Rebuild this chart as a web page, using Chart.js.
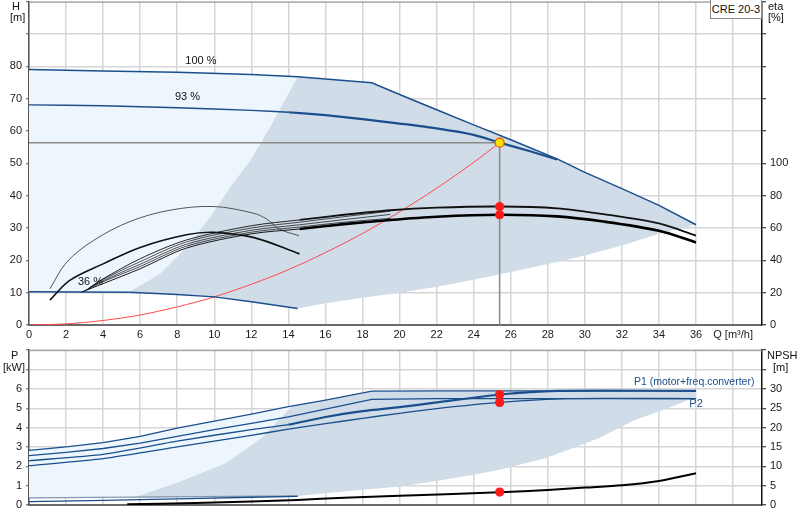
<!DOCTYPE html>
<html>
<head>
<meta charset="utf-8">
<title>CRE 20-3</title>
<script src="https://cdn.jsdelivr.net/npm/chart.js@4.4.1/dist/chart.umd.min.js"></script>
<style>
  html, body { margin:0; padding:0; background:#fff; }
  body { width:800px; height:520px; position:relative; overflow:hidden; font-family:"Liberation Sans", Arial, sans-serif; color:#111; }
  .wrap { position:absolute; left:0; width:800px; }
  #w1 { top:-4px; height:346px; }
  #w2 { top:345px; height:177px; }
  .lbl { position:absolute; font-size:11px; line-height:11px; white-space:nowrap; color:#111; }
  #model { position:absolute; left:710px; top:0; width:50px; height:18px; border:1px solid #8c8c8c; border-top:none; background:#fff; font-size:11px; line-height:18px; text-align:center; color:#111; }
</style>
</head>
<body>
<div class="wrap" id="w1"><canvas id="c1"></canvas></div>
<div class="wrap" id="w2"><canvas id="c2"></canvas></div>
<div class="lbl" style="left:12px;top:1px;">H</div>
<div class="lbl" style="left:10px;top:12px;">[m]</div>
<div class="lbl" style="left:768px;top:1px;">eta</div>
<div class="lbl" style="left:768px;top:12px;">[%]</div>
<div class="lbl" style="left:11px;top:350px;">P</div>
<div class="lbl" style="left:3px;top:362px;">[kW]</div>
<div class="lbl" style="left:767px;top:350px;">NPSH</div>
<div class="lbl" style="left:773px;top:362px;">[m]</div>
<div id="model">CRE 20-3</div>
<script>
// ---------------- tick labels ----------------
const qTicks = [0, 2, 4, 6, 8, 10, 12, 14, 16, 18, 20, 22, 24, 26, 28, 30, 32, 34, 36];
const qUnitTick = 38;
const qUnitLabel = 'Q [m³/h]';
const hTicks = [0, 10, 20, 30, 40, 50, 60, 70, 80];
const etaTicks = [0, 20, 40, 60, 80, 100];
const pTicks = [0, 1, 2, 3, 4, 5, 6];
const npshTicks = [0, 5, 10, 15, 20, 25, 30];

// ---------------- top chart: head H [m] ----------------
const q100 = [0, 4, 8, 12, 14.5, 18.5, 20, 22, 24, 26, 28.5, 30, 32, 34, 36];
const h100 = [79, 78.6, 78.2, 77.5, 76.8, 74.9, 71.3, 66.6, 61.9, 57.3, 51.4, 47.2, 42.2, 37.0, 31.0];
const q93 = [0, 4, 8, 12, 14, 16, 18, 20, 22, 24, 25.4, 27, 28.5];
const h93 = [68.1, 67.8, 67.2, 66.4, 65.8, 64.9, 63.7, 62.3, 60.8, 58.8, 56.4, 53.8, 51.2];
const q36 = [0, 5.4, 8, 10, 12, 14.5];
const h36 = [10.3, 10.1, 9.4, 8.7, 7.2, 5.1];
const qAreaLeft = [5.4, 7.07, 8.5, 9.77, 10.85, 11.93, 13.0, 14.5];
const hAreaLeft = [10.1, 15.8, 24, 33.3, 42.5, 50.7, 61, 76.8];
const qAreaLow = [14.5, 16, 18, 20, 22, 24, 26, 28, 30, 32, 34, 36];
const hAreaLow = [5.1, 6.7, 8.4, 10.0, 11.8, 14.0, 16.4, 18.9, 21.5, 24.6, 28.2, 31.0];
const qSys = [0, 2, 4, 6, 8, 10, 12, 14, 16, 18, 20, 22, 24, 25.4];
const hSys = [0, 0.35, 1.4, 3.1, 5.6, 8.7, 12.6, 17.1, 22.4, 28.3, 35, 42.3, 50.3, 56.4];
const dutyQ = 25.4;
const dutyH = 56.4;

// ---------------- top chart: efficiency eta [%] ----------------
const qEta36p = [1.13, 2.03, 3.47, 5.45, 7.6, 9.95, 12.1, 12.83, 13.5, 14.57];
const eta36p = [22.4, 38.8, 52.2, 64, 71, 73.3, 69.2, 65.5, 59.4, 55.2];
const qEta36t = [1.13, 2.2, 4.0, 6.0, 8.5, 9.95, 12.1, 14.6];
const eta36t = [15.4, 27.6, 37.8, 48, 55.8, 57.3, 54.2, 44];
const qEtaUp = [3.3, 4, 6, 8.5, 12, 14.6, 17, 19.5, 22, 25.4, 28.5, 31, 34, 36];
const etaUp = [23.4, 28.6, 41, 52.6, 61.4, 65, 68.2, 71, 72.6, 73.3, 72.2, 68.6, 62.8, 55.3];
const qEtaLow = [2.84, 4, 6, 8.5, 12, 14.6, 17, 19.5, 22, 25.4, 28.5, 31, 34, 36];
const etaLow = [20.4, 25.6, 34.8, 47.6, 56.4, 59.4, 62.4, 65, 67, 68.2, 67.2, 64, 58.3, 51.1];
const qEtaA = [2.95, 4, 6, 8.5, 12, 14.6, 17, 19.5];
const etaA = [20.8, 26.8, 36.2, 48.8, 57.4, 60.6, 63.6, 66];
const qEtaB = [3.05, 4, 6, 8.5, 12, 14.6, 17, 19.5];
const etaB = [21.4, 27.4, 37.6, 50, 58.6, 62, 65.2, 68.4];
const qEtaC = [3.18, 4, 6, 8.5, 12, 14.6, 17, 19.5];
const etaC = [22.4, 28.2, 39.2, 51.4, 60, 63.6, 67, 70.4];
const dutyEtaUp = 73.3;
const dutyEtaLow = 68.2;

// ---------------- bottom chart: power P [kW] and NPSH [m] ----------------
const qP = [0, 2, 4, 6, 8, 10, 12, 14, 16, 18.5, 22, 26, 30, 36];
const p1Max = [2.82, 3.0, 3.22, 3.55, 3.97, 4.33, 4.7, 5.08, 5.42, 5.88, 5.9, 5.9, 5.9, 5.9];
const p2Max = [2.55, 2.72, 2.92, 3.2, 3.55, 3.9, 4.22, 4.55, 4.95, 5.46, 5.5, 5.5, 5.5, 5.5];
const qP1_93 = [0, 4, 8, 12, 14, 16, 18, 20, 22, 25.4, 28.5, 36];
const p1_93 = [2.29, 2.62, 3.3, 3.9, 4.15, 4.55, 4.85, 5.06, 5.3, 5.71, 5.9, 5.9];
const qP2_93 = [0, 4, 8, 12, 14, 16, 18, 20, 22, 25.4, 29, 36];
const p2_93 = [2.03, 2.4, 3.0, 3.6, 3.92, 4.2, 4.48, 4.74, 4.98, 5.3, 5.5, 5.5];
const qP1_36 = [0, 14.5];
const p1_36 = [0.37, 0.47];
const qP2_36 = [0, 4, 8, 12, 14.5];
const p2_36 = [0.17, 0.24, 0.32, 0.4, 0.45];
const qPAreaLeft = [5.6, 8.0, 10.6, 12.6, 14.2];
const pAreaLeft = [0.38, 1.15, 2.15, 3.5, 5.12];
const qPAreaLow = [14.5, 17, 20, 21.8, 24, 25.4, 27.9, 29.4, 30.8, 32.6, 34.4, 36];
const pAreaLow = [0.46, 0.7, 0.95, 1.21, 1.56, 1.82, 2.43, 2.96, 3.48, 4.36, 4.97, 5.58];
const qNpsh = [5.3, 9, 12, 14.5, 17, 20, 22.5, 25.4, 28, 30, 32, 34, 36];
const npsh = [0.2, 0.5, 0.9, 1.3, 1.9, 2.4, 2.8, 3.3, 3.9, 4.5, 5.1, 6.2, 8.2];
const dutyP1 = 5.71;
const dutyP2 = 5.3;
const dutyNpsh = 3.33;

// ---------------- styling ----------------
Chart.defaults.font.family = '"Liberation Sans", Arial, sans-serif';
Chart.defaults.font.size = 11;
Chart.defaults.color = '#1a1a1a';
Chart.defaults.animation = false;
Chart.defaults.events = [];

const BLUE = '#1b4f8c';
const LIGHT = '#eef6fd';
const DARK = '#d0dce8';
const GRID = '#d6d6d6';
const NONE = 'rgba(0,0,0,0)';

function pts(xs, ys) { return xs.map((x, i) => ({ x: x, y: ys[i] })); }
function sel(xs, ys, f) { return pts(xs, ys).filter(p => f(p.x)); }
function line(data, axis, color, width, extra) {
  return Object.assign({ data: data, yAxisID: axis, borderColor: color, borderWidth: width,
    showLine: true, pointRadius: 0, fill: false, tension: 0 }, extra || {});
}
function area(data, axis, color) {
  return { data: data, yAxisID: axis, showLine: true, pointRadius: 0, borderColor: NONE,
    borderWidth: 1, backgroundColor: color, fill: 'shape', tension: 0 };
}
function dots(data, axis, fillC, border, r) {
  return { data: data, yAxisID: axis, showLine: false, pointRadius: r, pointBackgroundColor: fillC,
    pointBorderColor: border, pointBorderWidth: 1.2, borderColor: NONE };
}
function ordered(list) { const n = list.length; list.forEach((d, i) => { d.order = n - i; }); return list; }
function widthFrom(qFrom, thin, thick) {
  return { segment: { borderWidth: c => (c.p0.parsed.x >= qFrom ? thick : thin) } };
}

const curveLabels = {
  id: 'curveLabels',
  afterDatasetsDraw(chart, args, opts) {
    const ctx = chart.ctx;
    (opts.items || []).forEach(it => {
      const x = chart.scales.x.getPixelForValue(it.q);
      const y = chart.scales[it.axis].getPixelForValue(it.v);
      ctx.save();
      ctx.font = (it.size || 11) + 'px "Liberation Sans", Arial, sans-serif';
      ctx.fillStyle = it.color || '#111';
      ctx.textAlign = 'center';
      ctx.textBaseline = 'middle';
      ctx.fillText(it.text, x, y);
      ctx.restore();
    });
  }
};
const frameTop = {
  id: 'frameTop',
  afterDraw(chart) {
    const a = chart.chartArea, ctx = chart.ctx;
    ctx.save();
    ctx.strokeStyle = '#9a9a9a';
    ctx.lineWidth = 1;
    ctx.beginPath();
    ctx.moveTo(a.left, a.top + 0.5);
    ctx.lineTo(a.right, a.top + 0.5);
    ctx.stroke();
    ctx.restore();
  }
};
function noPad(s) { s.paddingTop = 0; s.paddingBottom = 0; s.paddingLeft = 0; s.paddingRight = 0; }

function xScale(showLabels) {
  return {
    type: 'linear', position: 'bottom', min: 0, max: 39.56,
    ticks: { display: showLabels, stepSize: 2, includeBounds: false, autoSkip: false, maxRotation: 0, padding: 3,
      color: '#1a1a1a',
      callback: v => qTicks.includes(v) ? String(v) : (v === qUnitTick ? qUnitLabel : '') },
    grid: { color: GRID, lineWidth: 1.5, drawTicks: false },
    border: { color: '#6a6a6a', width: 2 },
    afterFit: s => { s.height = 17; noPad(s); }
  };
}
function yScale(pos, max, step, labels, width, gridOn) {
  return {
    type: 'linear', position: pos, min: 0, max: max,
    ticks: { stepSize: step, includeBounds: false, autoSkip: false, padding: 4, color: '#1a1a1a',
      callback: v => labels.includes(v) ? String(v) : '' },
    grid: { color: GRID, lineWidth: 1.5, drawOnChartArea: gridOn, tickLength: pos === 'left' ? 3 : 4,
      tickColor: pos === 'left' ? '#555' : '#111', tickWidth: 1 },
    border: { color: pos === 'left' ? '#555' : '#111', width: 1.5 },
    afterFit: s => { s.width = width; noPad(s); }
  };
}

// ---------------- top chart datasets ----------------
const lightTop = sel(q100, h100, q => q <= 14.5).concat(pts(q36, h36).reverse());
const darkTop = pts(qAreaLeft, hAreaLeft)
  .concat(sel(q100, h100, q => q > 14.5))
  .concat(pts(qAreaLow, hAreaLow).reverse())
  .concat(sel(q36, h36, q => q > 5.4 && q < 14.5).reverse());

const topSets = ordered([
  area(lightTop, 'h', LIGHT),
  area(darkTop, 'h', DARK),
  line([{ x: 0, y: dutyH }, { x: dutyQ, y: dutyH }, { x: dutyQ, y: 0 }], 'h', '#8a8a8a', 1.5),
  line(pts(qSys, hSys), 'h', '#ff4a4a', 1, { tension: 0.3 }),
  line(pts(q36, h36), 'h', BLUE, 1.5),
  line(pts(q93, h93), 'h', BLUE, 2, Object.assign({ tension: 0.2 }, widthFrom(13.9, 1.4, 2.2))),
  line(pts(q100, h100), 'h', BLUE, 1.5),
  line(pts(qEta36p, eta36p), 'eta', '#555', 1, { tension: 0.35 }),
  line(pts(qEta36t, eta36t), 'eta', '#111', 1.6, { tension: 0.35 }),
  line(pts(qEtaA, etaA), 'eta', '#222', 0.8, { tension: 0.3 }),
  line(pts(qEtaB, etaB), 'eta', '#222', 0.8, { tension: 0.3 }),
  line(pts(qEtaC, etaC), 'eta', '#222', 0.8, { tension: 0.3 }),
  line(pts(qEtaUp, etaUp), 'eta', '#111', 1.6, Object.assign({ tension: 0.3 }, widthFrom(14.5, 0.9, 1.8))),
  line(pts(qEtaLow, etaLow), 'eta', '#000', 2.6, Object.assign({ tension: 0.3 }, widthFrom(14.5, 0.9, 2.6))),
  dots([{ x: dutyQ, y: dutyEtaUp }, { x: dutyQ, y: dutyEtaLow }], 'eta', '#ff1a1a', '#ff1a1a', 4),
  dots([{ x: dutyQ, y: dutyH }], 'h', '#ffe000', '#f05000', 4.5)
]);

new Chart(document.getElementById('c1'), {
  type: 'scatter',
  data: { datasets: topSets },
  options: {
    responsive: true, maintainAspectRatio: false,
    layout: { padding: { top: 1, left: 0, right: 0, bottom: 0 } },
    plugins: {
      legend: { display: false }, tooltip: { enabled: false },
      curveLabels: { items: [
        { text: '100 %', q: 9.28, v: 81.6, axis: 'h' },
        { text: '93 %', q: 8.55, v: 70.6, axis: 'h' },
        { text: '36 %', q: 3.32, v: 13.2, axis: 'h' }
      ] }
    },
    scales: {
      x: xScale(true),
      h: yScale('left', 100, 10, hTicks, 29, true),
      eta: yScale('right', 200, 20, etaTicks, 38, false)
    }
  },
  plugins: [curveLabels, frameTop]
});

// ---------------- bottom chart datasets ----------------
const lightBot = sel(qP, p1Max, q => q <= 14)
  .concat([{ x: qPAreaLeft[qPAreaLeft.length - 1], y: pAreaLeft[pAreaLeft.length - 1] }])
  .concat(pts(qP1_36, p1_36).reverse());
const darkBot = pts(qPAreaLeft, pAreaLeft)
  .concat(sel(qP, p1Max, q => q > 14.2))
  .concat(pts(qPAreaLow, pAreaLow).reverse());

const botSets = ordered([
  area(lightBot, 'p', LIGHT),
  area(darkBot, 'p', DARK),
  line(pts(qP1_36, p1_36), 'p', '#7f97b3', 1.2),
  line(pts(qP2_36, p2_36), 'p', BLUE, 1.3),
  line(pts(qP2_93, p2_93), 'p', BLUE, 1.3, { tension: 0.2 }),
  line(pts(qP1_93, p1_93), 'p', BLUE, 2, Object.assign({ tension: 0.2 }, widthFrom(13.9, 1.3, 2.2))),
  line(pts(qP, p2Max), 'p', BLUE, 1.3),
  line(pts(qP, p1Max), 'p', BLUE, 1.3),
  line(pts(qNpsh, npsh), 'npsh', '#000', 2, { tension: 0.3 }),
  dots([{ x: dutyQ, y: dutyP1 }, { x: dutyQ, y: dutyP2 }], 'p', '#ff1a1a', '#ff1a1a', 4),
  dots([{ x: dutyQ, y: dutyNpsh }], 'npsh', '#ff1a1a', '#ff1a1a', 4)
]);

new Chart(document.getElementById('c2'), {
  type: 'scatter',
  data: { datasets: botSets },
  options: {
    responsive: true, maintainAspectRatio: false,
    layout: { padding: { top: 5, left: 0, right: 0, bottom: 0 } },
    plugins: {
      legend: { display: false }, tooltip: { enabled: false },
      curveLabels: { items: [
        { text: 'P1 (motor+freq.converter)', q: 35.9, v: 6.35, axis: 'p', color: BLUE, size: 10.5 },
        { text: 'P2', q: 36.0, v: 5.2, axis: 'p', color: BLUE, size: 11 }
      ] }
    },
    scales: {
      x: xScale(false),
      p: yScale('left', 8, 1, pTicks, 29, true),
      npsh: yScale('right', 40, 5, npshTicks, 38, false)
    }
  },
  plugins: [curveLabels, frameTop]
});
</script>
</body>
</html>
